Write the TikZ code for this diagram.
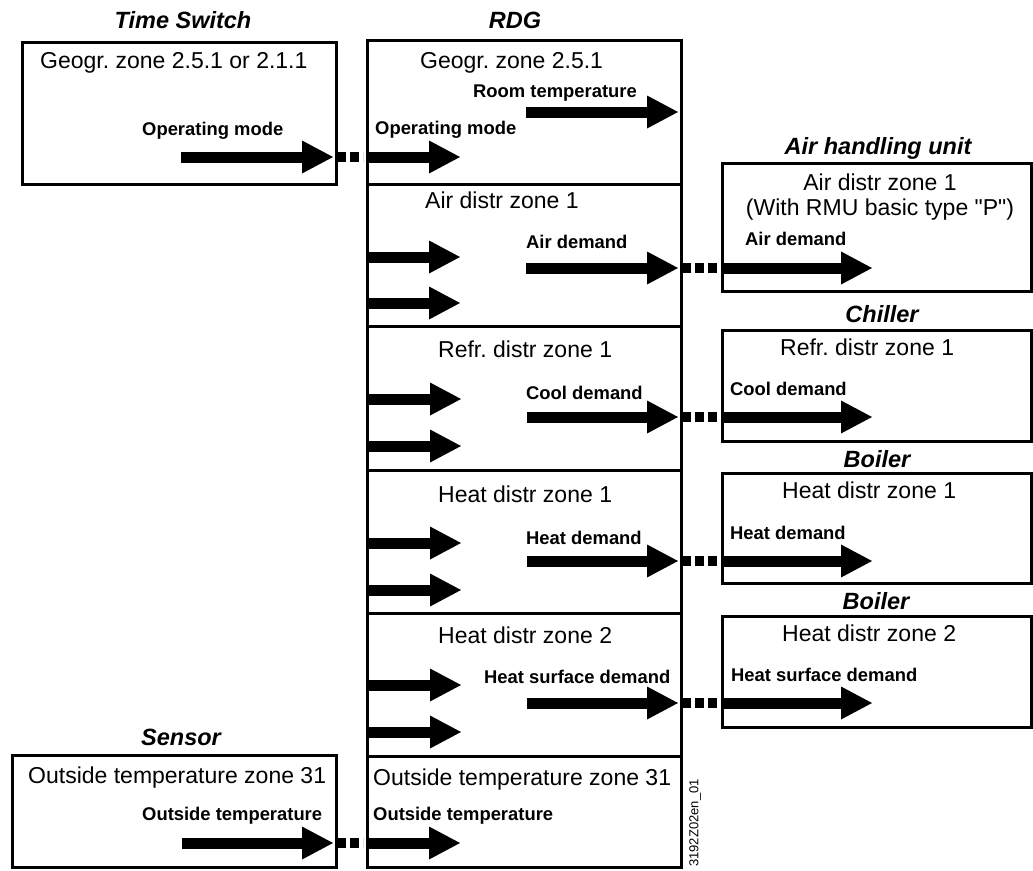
\documentclass[tikz,border=0pt]{standalone}
\usepackage{fontspec}
\setmainfont{Liberation Sans}
\usetikzlibrary{arrows.meta}
\newcommand\sq{\XeTeXglyph\XeTeXcharglyph"22\relax}
\tikzset{
  box/.style={draw, line width=2.5pt, inner sep=0pt, anchor=north west},
  ztext/.style={font=\fontsize{23}{27}\selectfont, inner sep=0pt, anchor=base west},
  lbl/.style={font=\bfseries\fontsize{18.4}{22}\selectfont, inner sep=0pt, anchor=base west},
  ttl/.style={font=\bfseries\itshape\fontsize{23.5}{28}\selectfont, inner sep=0pt, anchor=base},
  fat/.style={line width=11pt, -{Triangle[length=31pt,width=33pt,line width=0pt]}},
  dotlink/.style={line width=10pt, dash pattern=on 9pt off 4pt, shorten <=4pt, shorten >=3pt},
}
\begin{document}
\frenchspacing
\begin{tikzpicture}[x=1pt,y=-1pt]
\fill[white] (0,0) rectangle (1033,870);
\useasboundingbox (0,0) rectangle (1033,870);

% ---------- boxes ----------
\node[box, minimum width=314pt, minimum height=142pt] (ts) at (21,41) {};
\node[box, minimum width=324pt, minimum height=112pt] (sensor) at (11,754) {};
\node[box, minimum width=314pt, minimum height=144pt] (r1) at (366,39) {};
\node[box, minimum width=314pt, minimum height=142pt] (r2) at (366,183) {};
\node[box, minimum width=314pt, minimum height=144pt] (r3) at (366,325) {};
\node[box, minimum width=314pt, minimum height=143pt] (r4) at (366,469) {};
\node[box, minimum width=314pt, minimum height=143pt] (r5) at (366,612) {};
\node[box, minimum width=314pt, minimum height=111pt] (r6) at (366,755) {};
\node[box, minimum width=309pt, minimum height=128pt] (ahu) at (721,162) {};
\node[box, minimum width=309pt, minimum height=111pt] (chiller) at (721,329) {};
\node[box, minimum width=309pt, minimum height=110pt] (boilA) at (721,472) {};
\node[box, minimum width=309pt, minimum height=111pt] (boilB) at (721,615) {};

% ---------- titles ----------
\node[ttl] (tTS) at (183,28) {Time Switch};
\node[ttl] (tRDG) at (515,28) {RDG};
\node[ttl] (tAHU) at (878,154) {Air handling unit};
\node[ttl] (tCH) at (882,322) {Chiller};
\node[ttl] (tB1) at (877,467) {Boiler};
\node[ttl] (tB2) at (876,609) {Boiler};
\node[ttl] (tSe) at (181,745) {Sensor};

% ---------- zone texts ----------
\node[ztext] (zTS) at (40,68) {Geogr. zone 2.5.1 or 2.1.1};
\node[ztext] (z1) at (420,68) {Geogr. zone 2.5.1};
\node[ztext] (z2) at (425,208) {Air distr zone 1};
\node[ztext] (z3) at (438,357) {Refr. distr zone 1};
\node[ztext] (z4) at (438,502) {Heat distr zone 1};
\node[ztext] (z5) at (438,643) {Heat distr zone 2};
\node[ztext] (z6) at (373,785) {Outside temperature zone 31};
\node[ztext] (zSe) at (28,783) {Outside temperature zone 31};
\node[ztext, anchor=base] (zAHU) at (880,190) {Air distr zone 1};
\node[ztext, anchor=base] (zAHU2) at (880,215) {(With RMU basic type \sq P\sq)};
\node[ztext] (zCH) at (780,355) {Refr. distr zone 1};
\node[ztext] (zB1) at (782,498) {Heat distr zone 1};
\node[ztext] (zB2) at (782,641) {Heat distr zone 2};

% ---------- bold labels ----------
\node[lbl] (lTS) at (142,135) {Operating mode};
\node[lbl] (lOp) at (375,134) {Operating mode};
\node[lbl] (lRoom) at (473,97) {Room temperature};
\node[lbl] (lAir) at (526,248) {Air demand};
\node[lbl] (lAirR) at (745,245) {Air demand};
\node[lbl] (lCool) at (526,399) {Cool demand};
\node[lbl] (lCoolR) at (730,395) {Cool demand};
\node[lbl] (lHeat) at (526,544) {Heat demand};
\node[lbl] (lHeatR) at (730,539) {Heat demand};
\node[lbl] (lSurf) at (484,683) {Heat surface demand};
\node[lbl] (lSurfR) at (731,681) {Heat surface demand};
\node[lbl] (lOut) at (373,820) {Outside temperature};
\node[lbl] (lOutS) at (142,820) {Outside temperature};

\node[rotate=90, font=\fontsize{13}{15}\selectfont, inner sep=0pt] (code) at (695,823) {3192Z02en\_01};

% ---------- arrow end points ----------
\coordinate (tsA) at (181,157);  \coordinate (tsB) at (333,157);
\coordinate (opA) at (366,157);  \coordinate (opB) at (460,157);
\coordinate (rmA) at (526,112);  \coordinate (rmB) at (678,112);
\coordinate (a1A) at (366,257);  \coordinate (a1B) at (460,257);
\coordinate (a2A) at (366,303);  \coordinate (a2B) at (460,303);
\coordinate (adA) at (526,268);  \coordinate (adB) at (678,268);
\coordinate (ahA) at (721,268);  \coordinate (ahB) at (872,268);
\coordinate (c1A) at (366,399);  \coordinate (c1B) at (461,399);
\coordinate (c2A) at (366,446);  \coordinate (c2B) at (461,446);
\coordinate (cdA) at (527,417);  \coordinate (cdB) at (678,417);
\coordinate (chA) at (721,417);  \coordinate (chB) at (872,417);
\coordinate (h1A) at (366,543);  \coordinate (h1B) at (461,543);
\coordinate (h2A) at (366,590);  \coordinate (h2B) at (461,590);
\coordinate (hdA) at (527,561);  \coordinate (hdB) at (678,561);
\coordinate (bhA) at (721,561);  \coordinate (bhB) at (872,561);
\coordinate (s1A) at (366,685);  \coordinate (s1B) at (461,685);
\coordinate (s2A) at (366,732);  \coordinate (s2B) at (461,732);
\coordinate (sdA) at (527,703);  \coordinate (sdB) at (678,703);
\coordinate (bsA) at (721,703);  \coordinate (bsB) at (872,703);
\coordinate (seA) at (182,843);  \coordinate (seB) at (333,843);
\coordinate (otA) at (366,843);  \coordinate (otB) at (460,843);

% ---------- arrows ----------
\foreach \p in {ts,op,rm,a1,a2,ad,ah,c1,c2,cd,ch,h1,h2,hd,bh,s1,s2,sd,bs,se,ot}
  \draw[fat] (\p A) -- (\p B);

% ---------- dotted links ----------
\draw[dotlink] (tsB) -- (opA);
\draw[dotlink] (adB) -- (ahA);
\draw[dotlink] (cdB) -- (chA);
\draw[dotlink] (hdB) -- (bhA);
\draw[dotlink] (sdB) -- (bsA);
\draw[dotlink] (seB) -- (otA);
\end{tikzpicture}
\end{document}
